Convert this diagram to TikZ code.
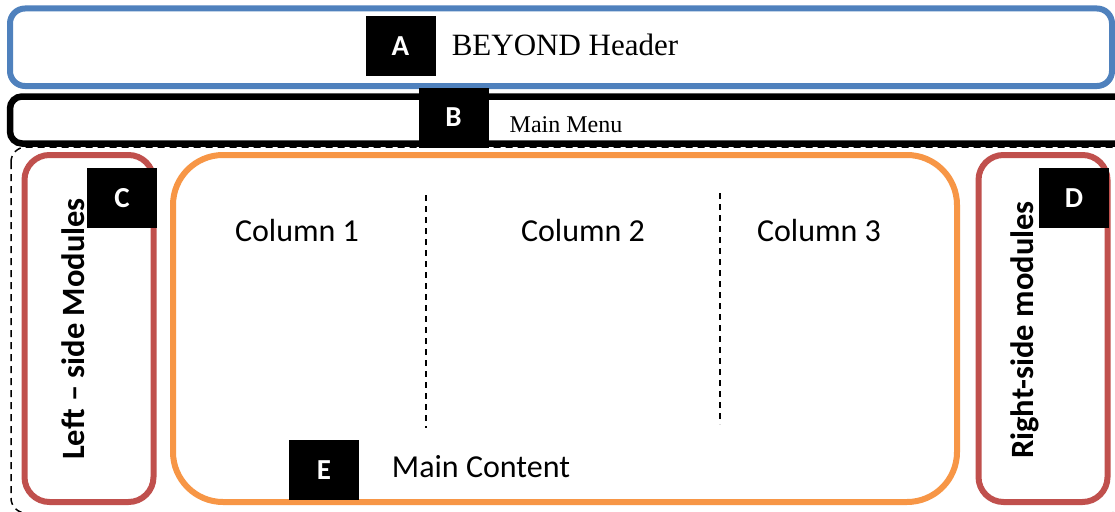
\documentclass[tikz,border=0pt]{standalone}
\usepackage{fontspec}
\setmainfont{Liberation Serif}
\newfontfamily\calfont{Carlito}
\definecolor{hblue}{HTML}{4F81BD}
\definecolor{hred}{HTML}{C0504D}
\definecolor{horange}{HTML}{F79646}
\begin{document}
\begin{tikzpicture}[x=1pt,y=-1pt,
  lab/.style={fill=black,text=white,font=\calfont\bfseries\fontsize{29}{31}\selectfont,minimum width=70pt,minimum height=60pt,inner sep=0pt},
  colt/.style={font=\calfont\fontsize{32}{34}\selectfont,inner sep=0pt},
  sidet/.style={rotate=90,font=\calfont\bfseries\fontsize{32.5}{34}\selectfont,inner sep=0pt},
  frame/.style={line width=6pt},
  divider/.style={line width=1.6pt,dash pattern=on 6pt off 5pt}]
\useasboundingbox (0,0) rectangle (1115,511);
\fill[white] (0,0) rectangle (1115,511);
% dashed outer region
\draw[line width=1.5pt,dash pattern=on 7pt off 5pt,rounded corners=15pt] (11,147) rectangle (1125,513);
% header
\draw[frame,hblue,rounded corners=15pt] (10,8.5) rectangle (1112,86);
% menu
\draw[frame,black,line width=6.5pt,rounded corners=12pt] (10,96.5) rectangle (1150,143.5);
% side modules
\draw[frame,hred,rounded corners=25pt] (24.5,155) rectangle (153.5,502);
\draw[frame,hred,rounded corners=25pt] (978.5,155) rectangle (1107.5,502);
% main content
\draw[frame,horange,rounded corners=50pt] (173,155) rectangle (957,502);
% column dividers
\coordinate (d1a) at (426,195);
\coordinate (d1b) at (426,428);
\coordinate (d2a) at (720,193);
\coordinate (d2b) at (720,424);
\draw[divider] (d1a) -- (d1b);
\draw[divider] (d2a) -- (d2b);
% texts
\node[font=\fontsize{31}{33}\selectfont,inner sep=0pt] (htxt) at (565,45) {BEYOND Header};
\node[font=\fontsize{24}{26}\selectfont,inner sep=0pt] (mtxt) at (566,125) {Main Menu};
\node[colt] (c1) at (297,231) {Column 1};
\node[colt] (c2) at (583,231) {Column 2};
\node[colt] (c3) at (819,231) {Column 3};
\node[colt] (mc) at (481,467) {Main Content};
\node[sidet] (lt) at (73,329) {Left – side Modules};
\node[sidet] (rt) at (1025,330) {Right-side modules};
% labels
\node[lab] (A) at (400.5,46) {A};
\node[lab] (B) at (453.5,117.5) {B};
\node[lab] (C) at (122,198) {C};
\node[lab] (D) at (1074,198) {D};
\node[lab] (E) at (324,470) {E};
\end{tikzpicture}
\end{document}
